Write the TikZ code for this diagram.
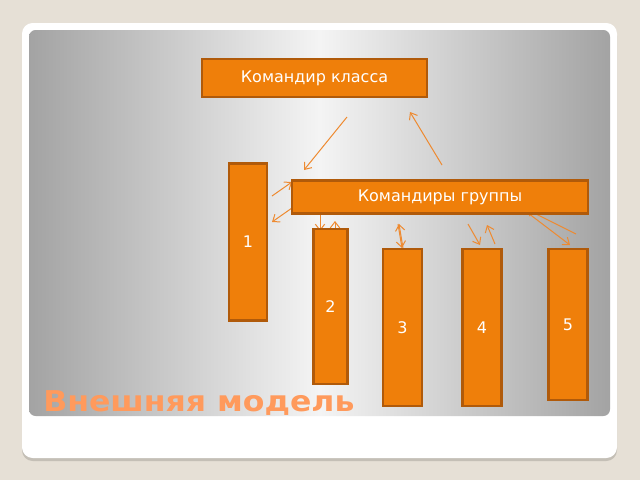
\documentclass[tikz,border=0pt]{standalone}
\usepackage{fontspec}
\setmainfont{DejaVu Sans}
\usetikzlibrary{arrows.meta}
\definecolor{bgbeige}{HTML}{E6E0D6}
\definecolor{boxfill}{HTML}{EF7F0A}
\definecolor{boxline}{HTML}{B05A0A}
\definecolor{arr}{HTML}{EE8A30}
\definecolor{ttl}{HTML}{FF9A5C}
\definecolor{panelgray}{HTML}{A3A3A3}
\definecolor{panellight}{HTML}{F4F4F4}
\definecolor{shadowc}{HTML}{C4BFB6}
\begin{document}
\begin{tikzpicture}[x=0.75pt,y=-0.75pt,
  box/.style={draw=boxline,line width=1.6pt,fill=boxfill,text=white,inner sep=0pt,
    font=\fontsize{12}{14}\selectfont},
  conn/.style={draw=arr,line width=0.75pt,-{Straight Barb[length=4.5pt,width=7pt]}}]
% background
\fill[bgbeige] (0,0) rectangle (640,480);
\useasboundingbox (0,0) rectangle (640,480);
\fill[shadowc,rounded corners=8pt] (22,25) rectangle (617,461);
\fill[white,rounded corners=8pt] (22,23) rectangle (617,458);
\shade[rounded corners=5pt,left color=panelgray,right color=panelgray,middle color=panellight]
  (29,30) rectangle (610,416);
% connector end points
\coordinate (a1s) at (347,117); \coordinate (a1e) at (304,170);
\coordinate (a2s) at (442,165); \coordinate (a2e) at (410,112);
\coordinate (a3s) at (272,196); \coordinate (a3e) at (292,182);
\coordinate (a4s) at (292,208); \coordinate (a4e) at (272,222);
\coordinate (a5s) at (320,213); \coordinate (a5e) at (320,231);
\coordinate (a6s) at (335,231); \coordinate (a6e) at (335,221);
\coordinate (a7s) at (398,224); \coordinate (a7e) at (402,248);
\coordinate (a8s) at (403,248); \coordinate (a8e) at (399,224);
\coordinate (a9s) at (468,224); \coordinate (a9e) at (480,245);
\coordinate (a10s) at (495,244); \coordinate (a10e) at (487,225);
\coordinate (a11s) at (528,213); \coordinate (a11e) at (570,245);
\coordinate (a12s) at (576,234); \coordinate (a12e) at (526,209);
\draw[conn] (a1s) -- (a1e);
\draw[conn] (a2s) -- (a2e);
\draw[conn] (a3s) -- (a3e);
\draw[conn] (a4s) -- (a4e);
\draw[conn] (a5s) -- (a5e);
\draw[conn] (a6s) -- (a6e);
\draw[conn] (a7s) -- (a7e);
\draw[conn] (a8s) -- (a8e);
\draw[conn] (a9s) -- (a9e);
\draw[conn] (a10s) -- (a10e);
\draw[conn] (a11s) -- (a11e);
\draw[conn] (a12s) -- (a12e);
% boxes
\node[box,minimum width=168.75pt,minimum height=28.5pt] (ck) at (314.5,78) {Командир класса};
\node[box,minimum width=222pt,minimum height=24.75pt] (grp) at (440,197) {Командиры группы};
\node[box,minimum width=28.5pt,minimum height=117.75pt] (b1) at (248,242) {1};
\node[box,minimum width=25.5pt,minimum height=116.25pt] (b2) at (330.5,306.5) {2};
\node[box,minimum width=29.25pt,minimum height=117.75pt] (b3) at (402.5,327.5) {3};
\node[box,minimum width=29.25pt,minimum height=117.75pt] (b4) at (482,327.5) {4};
\node[box,minimum width=29.25pt,minimum height=113.25pt] (b5) at (568,324.5) {5};
% title
\node[anchor=base west,inner sep=0pt,text=ttl,font=\bfseries\fontsize{21.5}{24}\selectfont] (title) at (43,411) {\scalebox{1.1}[1]{Внешняя модель}};
\end{tikzpicture}
\end{document}
